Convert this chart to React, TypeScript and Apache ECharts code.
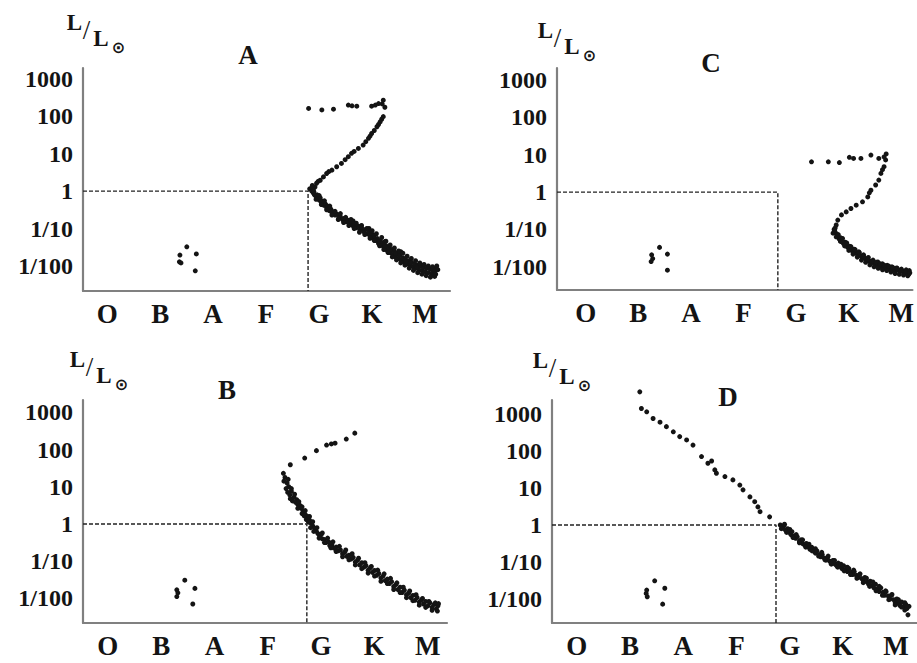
import React, { useEffect, useRef } from "react";
import * as echarts from "echarts";

// Spectral classes along the x axis (index 0..6)
const spectralClasses = ["O", "B", "A", "F", "G", "K", "M"];
// Luminosity ticks, as log10(L / L_sun)
const lumTicks = [-2, -1, 0, 1, 2, 3];
const lumLabels = ["1/100", "1/10", "1", "10", "100", "1000"];
const panelNames = ["A", "B", "C", "D"];
// Position of the Sun (G class) in each panel, [spectral index, log10 L]
const sunPositions = [
  [3.85, 0],
  [3.79, 0],
  [3.71, 0],
  [3.8, 0],
];

// ---------- Panel A : [spectral index, log10 L] ----------
const aMain = [
  [3.88, 0.06], [3.92, 0.0], [3.95, -0.05], [3.93, 0.1], [3.97, -0.1], [4.0, -0.14], [4.03, -0.2], [4.02, -0.1],
  [4.06, -0.24], [4.08, -0.18], [4.1, -0.3], [4.13, -0.27], [4.15, -0.38], [4.18, -0.35], [4.2, -0.44], [4.22, -0.4],
  [4.25, -0.52], [4.28, -0.48], [4.3, -0.58], [4.33, -0.55], [4.36, -0.64], [4.4, -0.62], [4.43, -0.72], [4.46, -0.68],
  [4.5, -0.76], [4.53, -0.73], [4.56, -0.82], [4.6, -0.78], [4.63, -0.88], [4.66, -0.84], [4.7, -0.93], [4.73, -0.88],
  [4.76, -0.98], [4.8, -0.94], [4.83, -1.04], [4.86, -0.98], [4.9, -1.08], [4.93, -1.03], [4.96, -1.14], [5.0, -1.1],
  [5.02, -1.2], [5.05, -1.14], [5.08, -1.26], [5.1, -1.2], [5.13, -1.32], [5.16, -1.27], [5.18, -1.4], [5.21, -1.33],
  [5.24, -1.45], [5.26, -1.38], [5.29, -1.52], [5.32, -1.46], [5.34, -1.58], [5.37, -1.5], [5.4, -1.64], [5.42, -1.56],
  [5.45, -1.7], [5.48, -1.62], [5.5, -1.76], [5.53, -1.68], [5.56, -1.8], [5.58, -1.72], [5.61, -1.86], [5.64, -1.78],
  [5.66, -1.9], [5.69, -1.83], [5.72, -1.95], [5.75, -1.86], [5.78, -1.98], [5.8, -1.9], [5.83, -2.02], [5.86, -1.94],
  [5.88, -2.06], [5.91, -1.98], [5.94, -2.1], [5.97, -2.0], [6.0, -2.12], [6.03, -2.04], [6.06, -2.15], [6.09, -2.06],
  [6.12, -2.18], [6.15, -2.08], [6.18, -2.2], [6.2, -2.1], [6.24, -2.14], [6.27, -2.05], [6.22, -2.25], [5.6, -1.62],
  [5.3, -1.35], [5.0, -1.0], [4.7, -0.8],
];
const aMainSpread = [
  [3.96, -0.02], [4.0, -0.22], [4.06, -0.12], [4.1, -0.36], [4.16, -0.26], [4.2, -0.5], [4.26, -0.4], [4.3, -0.64],
  [4.36, -0.54], [4.42, -0.76], [4.46, -0.6], [4.52, -0.84], [4.56, -0.7], [4.62, -0.92], [4.66, -0.76], [4.72, -1.0],
  [4.76, -0.86], [4.82, -1.1], [4.86, -0.92], [4.92, -1.16], [4.96, -1.0], [5.02, -1.26], [5.06, -1.06], [5.1, -1.32],
  [5.14, -1.14], [5.2, -1.46], [5.24, -1.24], [5.28, -1.56], [5.32, -1.34], [5.36, -1.64], [5.4, -1.44], [5.44, -1.76],
  [5.48, -1.52], [5.52, -1.84], [5.56, -1.6], [5.6, -1.92], [5.64, -1.66], [5.68, -1.98], [5.72, -1.74], [5.76, -2.06],
  [5.8, -1.8], [5.84, -2.12], [5.88, -1.86], [5.92, -2.18], [5.96, -1.92], [6.0, -2.22], [6.04, -1.96], [6.08, -2.26],
  [6.12, -2.0], [6.16, -2.3], [6.2, -2.02], [6.24, -2.28], [6.28, -2.0], [6.26, -2.22], [6.3, -2.1], [5.7, -1.88],
  [5.9, -2.03], [5.5, -1.66],
];
const aGiants = [
  [5.27, 1.99], [5.24, 1.92], [5.21, 1.85], [5.18, 1.78], [5.15, 1.72], [5.1, 1.62], [5.05, 1.54], [5.02, 1.47],
  [4.99, 1.41], [4.94, 1.32], [4.89, 1.23], [4.8, 1.14], [4.72, 1.06], [4.67, 1.01], [4.61, 0.92], [4.55, 0.84],
  [4.48, 0.74], [4.39, 0.65], [4.3, 0.56], [4.24, 0.52], [4.2, 0.47], [4.14, 0.38], [4.08, 0.29], [4.04, 0.26],
  [4.01, 0.21], [3.98, 0.11], [3.95, 0.03], [3.93, 0.15],
];
const aBranch = [
  [3.86, 2.21], [4.11, 2.17], [4.33, 2.19], [4.61, 2.3], [4.68, 2.28], [4.77, 2.27], [5.05, 2.27], [5.12, 2.3],
  [5.18, 2.34], [5.27, 2.43], [5.3, 2.24], [5.25, 2.33],
];
const aDwarfs = [[1.56, -1.49], [1.43, -1.71], [1.74, -1.68], [1.42, -1.89], [1.45, -1.92], [1.72, -2.13]];

// ---------- Panel B ----------
const bMain = [
  [3.38, 1.25], [3.42, 1.1], [3.45, 1.0], [3.4, 0.95], [3.5, 0.88], [3.47, 0.78], [3.55, 0.72], [3.52, 0.62],
  [3.6, 0.65], [3.62, 0.52], [3.66, 0.5], [3.68, 0.42], [3.72, 0.35], [3.7, 0.28], [3.76, 0.26], [3.8, 0.2],
  [3.78, 0.12], [3.84, 0.1], [3.87, 0.02], [3.9, -0.05], [3.86, -0.1], [3.94, -0.12], [3.97, -0.2], [4.0, -0.26],
  [4.03, -0.32], [4.06, -0.28], [4.08, -0.4], [4.12, -0.42], [4.15, -0.5], [4.2, -0.48], [4.22, -0.58], [4.26, -0.56],
  [4.3, -0.65], [4.34, -0.62], [4.38, -0.72], [4.42, -0.7], [4.46, -0.8], [4.5, -0.76], [4.54, -0.87], [4.58, -0.84],
  [4.62, -0.94], [4.66, -0.9], [4.7, -1.02], [4.74, -0.98], [4.78, -1.1], [4.82, -1.04], [4.86, -1.16], [4.9, -1.12],
  [4.94, -1.24], [4.98, -1.18], [5.02, -1.3], [5.06, -1.25], [5.1, -1.38], [5.14, -1.33], [5.18, -1.45], [5.22, -1.4],
  [5.26, -1.52], [5.3, -1.48], [5.34, -1.6], [5.38, -1.55], [5.42, -1.68], [5.46, -1.63], [5.5, -1.76], [5.54, -1.7],
  [5.58, -1.84], [5.62, -1.78], [5.66, -1.9], [5.7, -1.86], [5.74, -1.98], [5.78, -1.92], [5.82, -2.05], [5.86, -1.98],
  [5.9, -2.1], [5.94, -2.04], [5.98, -2.15], [6.02, -2.08], [6.06, -2.2], [6.1, -2.12], [6.14, -2.24], [6.18, -2.16],
  [6.22, -2.28], [6.25, -2.2],
];
const bMainSpread = [
  [3.36, 1.15], [3.44, 1.2], [3.43, 0.85], [3.5, 0.95], [3.48, 0.68], [3.56, 0.8], [3.58, 0.58], [3.64, 0.6],
  [3.62, 0.42], [3.7, 0.46], [3.74, 0.22], [3.76, 0.36], [3.82, 0.05], [3.84, 0.2], [3.9, 0.06], [3.92, -0.2],
  [3.98, -0.1], [4.02, -0.38], [4.08, -0.24], [4.12, -0.5], [4.18, -0.38], [4.24, -0.64], [4.28, -0.48], [4.34, -0.74],
  [4.4, -0.6], [4.46, -0.88], [4.52, -0.7], [4.58, -0.96], [4.64, -0.8], [4.7, -1.1], [4.76, -0.92], [4.82, -1.2],
  [4.88, -1.04], [4.94, -1.32], [5.0, -1.14], [5.06, -1.4], [5.12, -1.24], [5.18, -1.54], [5.24, -1.34], [5.3, -1.6],
  [5.36, -1.46], [5.42, -1.76], [5.48, -1.58], [5.54, -1.84], [5.6, -1.7], [5.66, -1.98], [5.72, -1.8], [5.78, -2.06],
  [5.84, -1.9], [5.9, -2.18], [5.96, -2.0], [6.02, -2.24], [6.08, -2.08], [6.14, -2.32], [6.2, -2.12], [6.24, -2.34],
  [6.26, -2.14],
];
const bGiants = [
  [3.35, 1.36], [3.48, 1.59], [3.75, 1.77], [3.97, 1.97], [4.16, 2.12], [4.25, 2.15], [4.32, 2.17], [4.53, 2.28],
  [4.69, 2.44],
];
const bDwarfs = [[1.5, -1.51], [1.35, -1.77], [1.69, -1.73], [1.35, -1.95], [1.37, -1.85], [1.65, -2.15]];

// ---------- Panel C ----------
const cMain = [
  [4.78, -1.0], [4.8, -1.08], [4.83, -1.12], [4.85, -1.2], [4.88, -1.26], [4.9, -1.22], [4.93, -1.33], [4.96, -1.38],
  [4.99, -1.34], [5.01, -1.44], [5.04, -1.48], [5.07, -1.45], [5.1, -1.54], [5.13, -1.58], [5.16, -1.53], [5.19, -1.62],
  [5.22, -1.66], [5.25, -1.6], [5.28, -1.7], [5.31, -1.74], [5.34, -1.68], [5.37, -1.78], [5.4, -1.82], [5.43, -1.75],
  [5.46, -1.85], [5.49, -1.89], [5.52, -1.82], [5.55, -1.9], [5.58, -1.95], [5.61, -1.87], [5.64, -1.94], [5.67, -1.99],
  [5.7, -1.92], [5.73, -2.0], [5.76, -2.04], [5.79, -1.96], [5.82, -2.03], [5.85, -2.08], [5.88, -2.0], [5.91, -2.06],
  [5.94, -2.11], [5.97, -2.03], [6.0, -2.09], [6.03, -2.14], [6.06, -2.06], [6.09, -2.12], [6.12, -2.17], [6.15, -2.08],
  [6.18, -2.14], [6.2, -2.2], [6.21, -2.1],
];
const cMainSpread = [
  [4.76, -1.1], [4.8, -0.96], [4.82, -1.2], [4.86, -1.14], [4.9, -1.32], [4.94, -1.24], [4.98, -1.44], [5.02, -1.36],
  [5.06, -1.56], [5.1, -1.46], [5.14, -1.66], [5.18, -1.54], [5.22, -1.74], [5.26, -1.62], [5.3, -1.82], [5.34, -1.72],
  [5.38, -1.88], [5.42, -1.8], [5.46, -1.95], [5.5, -1.86], [5.54, -2.0], [5.58, -1.88], [5.62, -2.04], [5.66, -1.92],
  [5.7, -2.08], [5.74, -1.96], [5.78, -2.1], [5.82, -1.98], [5.86, -2.14], [5.9, -2.02], [5.94, -2.18], [5.98, -2.04],
  [6.02, -2.2], [6.06, -2.1], [6.1, -2.22], [6.14, -2.12], [6.18, -2.24], [6.22, -2.16],
];
const cGiants = [
  [5.76, 0.86], [5.73, 0.68], [5.7, 0.6], [5.67, 0.5], [5.63, 0.32], [5.57, 0.19], [5.48, 0.05], [5.45, -0.02],
  [5.42, -0.13], [5.32, -0.26], [5.2, -0.35], [5.1, -0.44], [5.01, -0.53], [4.92, -0.61], [4.85, -0.75], [4.82, -0.88],
  [4.79, -1.02],
];
const cBranch = [
  [4.35, 0.81], [4.67, 0.81], [4.88, 0.79], [5.07, 0.93], [5.15, 0.9], [5.29, 0.9], [5.48, 0.99], [5.63, 0.9],
  [5.73, 0.94], [5.77, 1.02],
];
const cDwarfs = [[1.46, -1.48], [1.31, -1.68], [1.61, -1.66], [1.3, -1.86], [1.33, -1.78], [1.61, -2.09]];

// ---------- Panel D ----------
const dMain = [
  [3.88, 0.0], [3.92, -0.08], [3.95, -0.02], [3.98, -0.14], [4.02, -0.1], [4.05, -0.2], [4.08, -0.26], [4.1, -0.18],
  [4.14, -0.3], [4.17, -0.36], [4.2, -0.32], [4.24, -0.44], [4.27, -0.4], [4.3, -0.5], [4.34, -0.55], [4.37, -0.5],
  [4.41, -0.6], [4.44, -0.66], [4.47, -0.6], [4.51, -0.7], [4.54, -0.76], [4.57, -0.7], [4.61, -0.8], [4.64, -0.86],
  [4.67, -0.8], [4.71, -0.9], [4.74, -0.95], [4.77, -0.88], [4.81, -0.98], [4.84, -1.03], [4.87, -0.96], [4.91, -1.06],
  [4.94, -1.1], [4.97, -1.03], [5.01, -1.12], [5.04, -1.18], [5.07, -1.1], [5.11, -1.2], [5.14, -1.26], [5.17, -1.18],
  [5.21, -1.28], [5.24, -1.34], [5.27, -1.26], [5.31, -1.36], [5.34, -1.42], [5.37, -1.34], [5.41, -1.45], [5.44, -1.5],
  [5.47, -1.42], [5.51, -1.54], [5.54, -1.6], [5.57, -1.52], [5.61, -1.64], [5.64, -1.7], [5.67, -1.6], [5.71, -1.72],
  [5.74, -1.8], [5.77, -1.7], [5.81, -1.82], [5.84, -1.9], [5.87, -1.8], [5.91, -1.92], [5.94, -2.0], [5.97, -1.9],
  [6.01, -2.02], [6.04, -2.1], [6.07, -2.0], [6.1, -2.12], [6.13, -2.18], [6.16, -2.08], [6.2, -2.2], [6.24, -2.15],
  [6.28, -2.43], [6.22, -2.3],
];
const dMainSpread = [
  [3.9, -0.1], [3.96, 0.02], [4.0, -0.2], [4.06, -0.12], [4.12, -0.34], [4.18, -0.26], [4.24, -0.48], [4.3, -0.4],
  [4.36, -0.6], [4.42, -0.52], [4.48, -0.7], [4.54, -0.64], [4.6, -0.84], [4.66, -0.74], [4.72, -0.94], [4.78, -0.84],
  [4.84, -1.06], [4.9, -0.96], [4.96, -1.14], [5.02, -1.06], [5.08, -1.24], [5.14, -1.14], [5.2, -1.34], [5.26, -1.22],
  [5.32, -1.44], [5.38, -1.32], [5.44, -1.56], [5.5, -1.44], [5.56, -1.66], [5.62, -1.54], [5.68, -1.78], [5.74, -1.66],
  [5.8, -1.9], [5.86, -1.78], [5.92, -2.02], [5.98, -1.88], [6.04, -2.16], [6.1, -2.02], [6.16, -2.22], [6.22, -2.1],
  [6.26, -2.26], [6.3, -2.2],
];
const dUpper = [
  [1.24, 3.6], [1.27, 3.15], [1.37, 3.06], [1.49, 2.88], [1.62, 2.78], [1.74, 2.66], [1.87, 2.52], [1.99, 2.39],
  [2.12, 2.3], [2.24, 2.16], [2.4, 1.85], [2.52, 1.67], [2.59, 1.73], [2.65, 1.49], [2.68, 1.4], [2.84, 1.31],
  [2.99, 1.22], [3.12, 1.08], [3.18, 0.95], [3.31, 0.76], [3.4, 0.63], [3.46, 0.49], [3.5, 0.36], [3.68, 0.22],
];
const dDwarfs = [[1.52, -1.51], [1.71, -1.71], [1.37, -1.76], [1.38, -1.94], [1.36, -1.85], [1.67, -2.14]];

const panelStars = [
  [aMain, aMainSpread, aGiants, aBranch, aDwarfs],
  [bMain, bMainSpread, bGiants, bDwarfs],
  [cMain, cMainSpread, cGiants, cBranch, cDwarfs],
  [dMain, dMainSpread, dUpper, dDwarfs],
];

// ---------- Layout (pixels / axis ranges) ----------
const layout = [
  { grid: { left: 83, top: 68, width: 367, height: 223 }, x: [-0.4, 6.53], y: [-2.67, 3.29], title: [248, 55], unit: [67, 15] },
  { grid: { left: 83, top: 400, width: 364, height: 223 }, x: [-0.41, 6.42], y: [-2.66, 3.33], title: [227, 390], unit: [70, 352] },
  { grid: { left: 557, top: 68, width: 360, height: 222 }, x: [-0.49, 6.27], y: [-2.62, 3.32], title: [711, 63], unit: [538, 23] },
  { grid: { left: 552, top: 400, width: 365, height: 223 }, x: [-0.41, 6.45], y: [-2.65, 3.38], title: [728, 397], unit: [533, 353] },
];

const SERIF = "Liberation Serif";
const INK = "#141414";

function txt(text: string, x: number, y: number, fontSize: number, fontWeight: string, fontFamily = SERIF) {
  return {
    type: "text",
    x,
    y,
    style: {
      text,
      fontSize,
      fontWeight,
      fontFamily,
      fill: INK,
      textAlign: "center",
      textVerticalAlign: "middle",
      align: "center",
      verticalAlign: "middle",
    },
  };
}

function buildOption() {
  const grids: any[] = [];
  const xAxes: any[] = [];
  const yAxes: any[] = [];
  const series: any[] = [];
  const graphics: any[] = [];

  layout.forEach((p, i) => {
    grids.push({ ...p.grid, containLabel: false });
    xAxes.push({
      type: "value",
      gridIndex: i,
      min: p.x[0],
      max: p.x[1],
      axisLine: { show: true, onZero: false, lineStyle: { color: "#808080", width: 2.2 } },
      axisTick: { show: false },
      splitLine: { show: false },
      axisLabel: {
        customValues: spectralClasses.map((_, k) => k),
        formatter: (v: number) => spectralClasses[Math.round(v)] ?? "",
        fontFamily: SERIF,
        fontWeight: "bold",
        fontSize: 27,
        color: INK,
        margin: 9,
        padding: [0, 0, 0, 6],
      },
    });
    yAxes.push({
      type: "value",
      gridIndex: i,
      min: p.y[0],
      max: p.y[1],
      axisLine: { show: true, onZero: false, lineStyle: { color: "#808080", width: 2.2 } },
      axisTick: { show: false },
      splitLine: { show: false },
      axisLabel: {
        customValues: lumTicks,
        formatter: (v: number) => {
          const k = lumTicks.indexOf(Math.round(v));
          return k >= 0 ? lumLabels[k] : "";
        },
        fontFamily: SERIF,
        fontWeight: "bold",
        fontSize: 24,
        color: INK,
        margin: 10,
      },
    });

    const sun = sunPositions[i];
    series.push({
      type: "line",
      xAxisIndex: i,
      yAxisIndex: i,
      data: [
        [p.x[0], sun[1]],
        [sun[0], sun[1]],
        [sun[0], p.y[0]],
      ],
      symbol: "none",
      silent: true,
      lineStyle: { color: "#222", width: 1.4, type: [4, 2] },
      z: 1,
    });
    series.push({
      type: "scatter",
      xAxisIndex: i,
      yAxisIndex: i,
      data: ([] as number[][]).concat(...panelStars[i]),
      symbol: "circle",
      symbolSize: 5,
      clip: false,
      silent: true,
      itemStyle: { color: INK, opacity: 1 },
      z: 3,
    });

    graphics.push(txt(panelNames[i], p.title[0], p.title[1], 27, "bold"));
    graphics.push({
      type: "group",
      x: p.unit[0],
      y: p.unit[1],
      children: [
        txt("L", 7.5, 7.5, 23, "bold"),
        txt("/", 19.5, 15, 27, "normal"),
        txt("L", 34, 23, 23, "bold"),
        txt("⊙", 51.5, 32, 16, "bold", "DejaVu Sans"),
      ],
    });
  });

  return {
    animation: false,
    backgroundColor: "#ffffff",
    grid: grids,
    xAxis: xAxes,
    yAxis: yAxes,
    series,
    graphic: graphics,
  };
}

export default function App() {
  const ref = useRef<HTMLDivElement>(null);
  useEffect(() => {
    if (!ref.current) return;
    const chart = echarts.init(ref.current, null, { renderer: "svg", width: 917, height: 663 });
    chart.setOption(buildOption() as any);
    return () => chart.dispose();
  }, []);
  return (
    <div
      ref={ref}
      style={{ position: "absolute", left: 0, top: 0, width: 917, height: 663, background: "#fff" }}
    />
  );
}
